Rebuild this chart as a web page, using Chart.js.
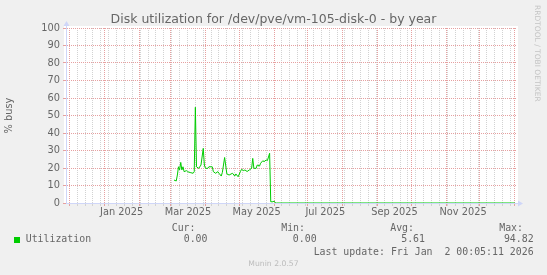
<!DOCTYPE html>
<html><head><meta charset="utf-8">
<script src="https://cdn.jsdelivr.net/npm/chart.js@4/dist/chart.umd.min.js"></script>
<style>
html,body{margin:0;padding:0;background:#f0f0f0;}
#wrap{position:relative;width:547px;height:275px;overflow:hidden;background:#f0f0f0;}
#c{position:absolute;left:0;top:0;}
.m{position:absolute;font-family:'DejaVu Sans Mono',monospace;font-size:9.9px;line-height:12px;color:#666;white-space:pre;}
.sq{position:absolute;width:6px;height:6px;background:#00cc00;}
.ver{position:absolute;left:0;width:547px;text-align:center;top:259.3px;font-family:'DejaVu Sans';font-size:7.7px;line-height:10px;color:#bbbbbb;}
.wm{position:absolute;left:533px;top:5px;writing-mode:vertical-rl;font-family:'DejaVu Sans';font-size:7.5px;line-height:9px;color:#c4c4c4;white-space:nowrap;}
</style></head>
<body>
<div id="wrap">
<canvas id="c" width="547" height="275"></canvas>
<div class="wm">RRDTOOL / TOBI OETIKER</div>
<div id="legend"></div>
<div class="ver">Munin 2.0.57</div>
</div>
<script>
// ---- data ----
const DAY = 86400000;
const endTime = Date.UTC(2026, 0, 2, 0, 5, 11);
const startTime = endTime - 400 * DAY;

const dates = [
 '2025-03-04','2025-03-06','2025-03-07','2025-03-08','2025-03-09','2025-03-10','2025-03-11','2025-03-12',
 '2025-03-13','2025-03-15','2025-03-16','2025-03-19','2025-03-21','2025-03-22','2025-03-23','2025-03-24',
 '2025-03-26','2025-03-28','2025-03-30','2025-03-31','2025-04-01','2025-04-03','2025-04-04','2025-04-06',
 '2025-04-07','2025-04-08','2025-04-10','2025-04-12','2025-04-13','2025-04-15','2025-04-16','2025-04-18',
 '2025-04-20','2025-04-22','2025-04-25','2025-04-27','2025-04-28','2025-04-30','2025-05-02','2025-05-03',
 '2025-05-05','2025-05-06','2025-05-08','2025-05-10','2025-05-12','2025-05-13','2025-05-14','2025-05-16',
 '2025-05-17','2025-05-19','2025-05-20','2025-05-22','2025-05-23','2025-05-25','2025-05-26','2025-05-28',
 '2025-05-29','2025-05-31','2025-06-01','2025-06-02','2025-06-03','2026-01-01'
];
const utilization = [
 13.1,12.6,16.0,20.7,18.9,23.2,18.9,20.7,
 17.9,18.5,17.9,17.3,17.0,17.9,54.7,20.7,
 19.8,21.7,31.2,21.7,19.8,19.8,20.7,20.7,
 20.7,17.9,17.0,17.9,17.0,15.4,17.5,26.0,
 16.6,16.0,17.0,15.4,16.6,15.0,17.9,19.2,
 18.5,18.9,18.0,18.9,19.8,25.5,19.8,19.8,
 21.7,21.1,22.7,24.2,23.6,24.6,24.2,28.4,
 0.7,0.7,1.1,0.2,0,0
];
const xLabelMonths = ['2025-01','2025-03','2025-05','2025-07','2025-09','2025-11'];
const xLabelTexts  = ['Jan 2025','Mar 2025','May 2025','Jul 2025','Sep 2025','Nov 2025'];
const yMin = 0, yMax = 100, yStep = 5, yLabelStep = 10;

const legendHeaders = ['Cur:','Min:','Avg:','Max:'];
const legendValues  = ['0.00','0.00','5.61','94.82'];
const seriesName = 'Utilization';
const lastUpdate = 'Last update: Fri Jan  2 00:05:11 2026';
const titleText = 'Disk utilization for /dev/pve/vm-105-disk-0 - by year';

// ---- helpers ----
function parseDay(s){ const p = s.split('-').map(Number); return Date.UTC(p[0], p[1]-1, p[2] || 1); }

// build x ticks: month starts (major), Sundays (minor), mid-month labels
const xTicks = [];
(function(){
  const majors = new Set();
  for (let y = 2024, m = 10; y < 2026 || (y === 2026 && m <= 1); ) {
    const t = Date.UTC(y, m, 1);
    if (t > startTime && t < endTime) { xTicks.push({value:t, kind:'major', label:''}); majors.add(t); }
    m++; if (m > 11) { m = 0; y++; }
  }
  let t = Date.UTC(2024, 11, 1); // a Sunday
  while (t - 7*DAY > startTime) t -= 7*DAY;
  for (; t < endTime; t += 7*DAY) {
    if (t > startTime && !majors.has(t)) xTicks.push({value:t, kind:'minor', label:''});
  }
  xLabelMonths.forEach((ms, i) => {
    const p = ms.split('-').map(Number);
    const a = Date.UTC(p[0], p[1]-1, 1), b = Date.UTC(p[0], p[1], 1);
    xTicks.push({value:(a+b)/2, kind:'label', label:xLabelTexts[i]});
  });
  xTicks.sort((a,b) => a.value - b.value);
})();

const MAJOR = '#e6a0a0', MINOR = '#d2d2d2', AXIS = '#cfd6f8', FONT = '#666666';

// legend html
(function(){
  const L = document.getElementById('legend');
  const rightEdgesH = [195.5, 305, 414, 523];
  const rightEdgesV = [207.5, 316.6, 425, 533.6];
  let h = '';
  legendHeaders.forEach((t,i)=>{ h += `<div class="m" style="top:221.5px;right:${547-rightEdgesH[i]}px">${t}</div>`; });
  h += `<div class="sq" style="left:14px;top:237px"></div>`;
  h += `<div class="m" style="top:233.2px;left:25.7px">${seriesName}</div>`;
  legendValues.forEach((t,i)=>{ h += `<div class="m" style="top:233.2px;right:${547-rightEdgesV[i]}px">${t}</div>`; });
  h += `<div class="m" style="top:245.5px;right:${547-533.6}px">${lastUpdate}</div>`;
  L.innerHTML = h;
})();

const plotBg = {
  id:'plotBg',
  beforeDraw(chart){
    const {ctx, chartArea:a} = chart;
    ctx.save(); ctx.fillStyle = '#ffffff';
    ctx.fillRect(a.left - 2, a.top - 2, a.right - a.left + 4, a.bottom - a.top + 2);
    ctx.restore();
  }
};
const arrows = {
  id:'arrows',
  afterDraw(chart){
    const {ctx, chartArea:a} = chart;
    ctx.save();
    ctx.strokeStyle = AXIS; ctx.fillStyle = AXIS; ctx.lineWidth = 1;
    const xl = Math.round(a.left) + 0.5, yb = Math.round(a.bottom) + 0.5;
    ctx.beginPath(); ctx.moveTo(xl, a.top); ctx.lineTo(xl, a.top - 3); ctx.stroke();
    ctx.beginPath(); ctx.moveTo(xl - 3, a.top - 2); ctx.lineTo(xl + 3, a.top - 2); ctx.lineTo(xl, a.top - 7); ctx.closePath(); ctx.fill();
    ctx.beginPath(); ctx.moveTo(a.right, yb); ctx.lineTo(a.right + 3, yb); ctx.stroke();
    ctx.beginPath(); ctx.moveTo(a.right + 2, yb - 3); ctx.lineTo(a.right + 2, yb + 3); ctx.lineTo(a.right + 7, yb); ctx.closePath(); ctx.fill();
    ctx.restore();
  }
};

new Chart(document.getElementById('c'), {
  type:'line',
  data:{ datasets:[{
    label: seriesName,
    data: dates.map((d,i)=>({x:parseDay(d), y:utilization[i]})),
    borderColor:'#00cc00', borderWidth:1, pointRadius:0, tension:0, fill:false
  }]},
  options:{
    responsive:false, animation:false, events:[],
    layout:{padding:{left:0, right:0, top:0, bottom:0}},
    plugins:{
      legend:{display:false}, tooltip:{enabled:false},
      title:{display:true, text:titleText, color:FONT,
        font:{family:'DejaVu Sans', size:12.5, weight:'normal', lineHeight:1.2},
        padding:{top:12.3, bottom:0.7}}
    },
    scales:{
      x:{
        type:'linear', min:startTime, max:endTime,
        afterFit(s){ s.height = 72; },
        afterBuildTicks(s){ s.ticks = xTicks.map(t => ({value:t.value})); },
        ticks:{ autoSkip:false, maxRotation:0, minRotation:0, padding:0.5, color:FONT,
          font:{family:'DejaVu Sans', size:9.8},
          callback:(v,i)=> xTicks[i] ? xTicks[i].label : '' },
        grid:{ drawTicks:true, tickLength:3, lineWidth:1,
          color:(c)=>{ const k = xTicks[c.index] && xTicks[c.index].kind; return k==='major'?MAJOR:(k==='minor'?MINOR:'rgba(0,0,0,0)'); },
          tickColor:(c)=>{ const k = xTicks[c.index] && xTicks[c.index].kind; return k==='major'?MAJOR:(k==='minor'?MINOR:'rgba(0,0,0,0)'); } },
        border:{ display:true, color:AXIS, width:1, dash:[1,1] }
      },
      y:{
        min:yMin, max:yMax,
        afterFit(s){ s.width = 66; },
        ticks:{ stepSize:yStep, padding:3, color:FONT, font:{family:'DejaVu Sans', size:9.8},
          callback:(v)=> (v % yLabelStep === 0) ? String(v) : '' },
        grid:{ drawTicks:true, tickLength:3, lineWidth:1,
          color:(c)=>{ const v = c.tick.value; if (v === 0) return 'rgba(0,0,0,0)'; return v % yLabelStep === 0 ? MAJOR : MINOR; },
          tickColor:(c)=>{ const v = c.tick.value; return v % yLabelStep === 0 ? MAJOR : MINOR; } },
        border:{ display:true, color:AXIS, width:1, dash:[1,1] },
        title:{ display:true, text:'% busy', color:FONT, font:{family:'DejaVu Sans', size:9.8, lineHeight:1.2}, padding:{top:4, bottom:0} }
      },
      yRight:{
        position:'right', min:yMin, max:yMax, display:true,
        afterFit(s){ s.width = 31; },
        ticks:{ display:false }, grid:{ display:false, drawTicks:false }, border:{ display:false }
      }
    }
  },
  plugins:[plotBg, arrows]
});
</script>
</body></html>
